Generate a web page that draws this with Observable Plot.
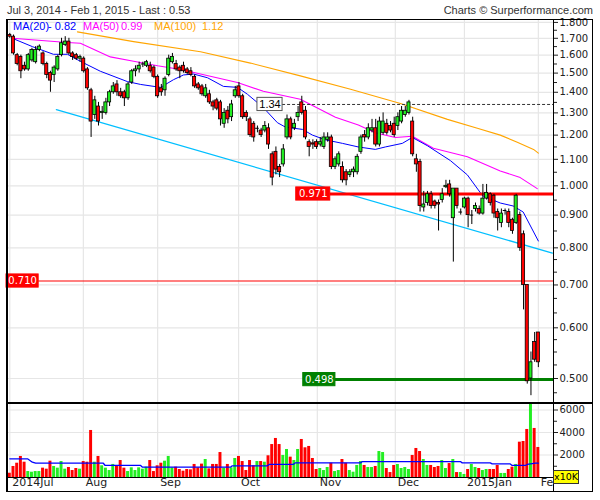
<!DOCTYPE html>
<html><head><meta charset="utf-8">
<script src="https://cdn.jsdelivr.net/npm/d3@7"></script>
<script src="https://cdn.jsdelivr.net/npm/@observablehq/plot@0.6"></script>
<style>
body{margin:0;background:#fff;}
#wrap{position:relative;width:600px;height:500px;overflow:hidden;background:#fff;font-family:"Liberation Sans",Arial,sans-serif;}
#wrap svg{position:absolute;left:0;}
</style></head><body><div id="wrap"></div>
<script>
// ---------- data ----------
const open = [1.72,1.71,1.60,1.59,1.54,1.52,1.57,1.56,1.63,1.61,1.55,1.50,1.49,1.52,1.60,1.66,1.68,1.61,1.60,1.58,1.58,1.52,1.41,1.29,1.33,1.30,1.30,1.35,1.40,1.44,1.40,1.40,1.37,1.45,1.51,1.52,
 1.55,1.54,1.54,1.53,1.48,1.42,1.41,1.49,1.56,1.55,1.53,1.54,1.52,1.51,1.48,1.44,1.43,1.38,1.39,1.35,1.36,1.35,1.25,1.31,1.28,1.38,1.43,1.38,1.30,1.27,1.25,1.23,1.22,1.22,1.23,1.12,1.13,1.07,
 1.08,1.19,1.27,1.23,1.28,1.35,1.31,1.17,1.165,1.17,1.16,1.15,1.18,1.19,1.07,1.08,1.07,1.05,1.04,1.05,1.05,1.13,1.20,1.19,1.22,1.23,1.16,1.21,1.25,1.24,1.25,1.24,1.26,1.29,1.30,1.26,1.10,1.09,
 0.925,0.94,0.97,0.945,0.94,0.95,0.995,1.005,0.89,0.99,0.91,0.925,0.955,0.90,0.92,0.92,0.905,0.955,0.97,0.965,0.91,0.875,0.915,0.91,0.885,0.875,0.90,0.84,0.70,0.50,0.57,0.59];
const high = [1.73,1.72,1.61,1.60,1.56,1.61,1.64,1.65,1.66,1.62,1.56,1.51,1.54,1.60,1.70,1.71,1.70,1.62,1.61,1.60,1.59,1.53,1.42,1.38,1.35,1.33,1.37,1.41,1.45,1.46,1.42,1.41,1.45,1.52,1.54,1.56,
 1.56,1.57,1.56,1.54,1.49,1.44,1.48,1.60,1.61,1.57,1.54,1.56,1.53,1.53,1.49,1.45,1.44,1.44,1.41,1.36,1.37,1.36,1.32,1.33,1.36,1.43,1.45,1.39,1.31,1.28,1.26,1.24,1.23,1.26,1.25,1.13,1.15,1.08,
 1.16,1.29,1.28,1.27,1.33,1.38,1.33,1.18,1.18,1.18,1.19,1.21,1.21,1.20,1.11,1.13,1.09,1.06,1.06,1.07,1.12,1.20,1.22,1.25,1.27,1.27,1.28,1.30,1.27,1.26,1.28,1.30,1.33,1.33,1.36,1.28,1.12,1.10,
 0.98,0.98,0.98,0.95,0.95,0.99,1.02,1.02,0.99,0.99,0.92,0.96,0.96,0.915,0.94,0.93,1.005,1.005,0.975,0.97,0.92,0.92,0.92,0.92,0.89,0.97,0.91,0.85,0.70,0.55,0.59,0.59];
const low = [1.70,1.60,1.54,1.47,1.51,1.51,1.56,1.55,1.62,1.54,1.47,1.40,1.45,1.51,1.59,1.65,1.60,1.57,1.57,1.56,1.50,1.41,1.19,1.27,1.24,1.27,1.29,1.33,1.39,1.38,1.37,1.33,1.36,1.44,1.48,1.50,
 1.53,1.53,1.50,1.47,1.37,1.38,1.38,1.48,1.55,1.51,1.47,1.50,1.49,1.48,1.42,1.41,1.38,1.37,1.34,1.31,1.31,1.24,1.23,1.25,1.26,1.37,1.37,1.27,1.26,1.19,1.17,1.21,1.19,1.21,1.14,1.00,1.04,1.03,
 1.07,1.18,1.18,1.22,1.26,1.29,1.18,1.11,1.14,1.14,1.15,1.14,1.17,1.06,1.06,1.07,1.01,1.00,1.03,1.03,1.04,1.12,1.17,1.18,1.21,1.15,1.15,1.20,1.20,1.21,1.19,1.22,1.25,1.28,1.29,1.11,1.05,0.91,
 0.91,0.93,0.92,0.92,0.85,0.94,0.99,0.96,0.76,0.92,0.90,0.92,0.86,0.87,0.91,0.90,0.90,0.95,0.93,0.89,0.85,0.86,0.90,0.86,0.84,0.87,0.79,0.64,0.49,0.47,0.53,0.52];
const close = [1.71,1.61,1.55,1.51,1.52,1.60,1.63,1.63,1.65,1.55,1.49,1.46,1.53,1.59,1.67,1.68,1.61,1.59,1.58,1.59,1.51,1.42,1.26,1.36,1.26,1.305,1.35,1.40,1.43,1.40,1.38,1.37,1.44,1.51,1.52,1.54,
 1.55,1.56,1.51,1.48,1.38,1.40,1.47,1.58,1.59,1.52,1.51,1.51,1.50,1.49,1.43,1.42,1.39,1.42,1.35,1.33,1.32,1.27,1.30,1.27,1.34,1.41,1.38,1.28,1.28,1.20,1.19,1.23,1.20,1.24,1.16,1.03,1.06,1.05,
 1.14,1.27,1.19,1.25,1.30,1.30,1.19,1.15,1.16,1.15,1.17,1.19,1.19,1.07,1.10,1.12,1.02,1.02,1.05,1.06,1.11,1.19,1.19,1.23,1.23,1.16,1.26,1.26,1.21,1.22,1.20,1.28,1.31,1.31,1.35,1.12,1.08,0.93,
 0.935,0.97,0.93,0.93,0.935,0.97,1.00,0.97,0.99,0.93,0.91,0.955,0.90,0.90,0.93,0.905,0.955,0.975,0.94,0.905,0.89,0.905,0.915,0.875,0.85,0.965,0.80,0.70,0.495,0.53,0.535,0.53];
// volume in units of 10K shares
const volume = [380,980,1270,1870,1360,530,470,530,530,830,740,1450,980,830,1420,740,890,620,800,740,
 1420,1360,4180,1360,1870,1040,830,620,1160,1040,1510,830,530,860,620,860,740,920,1510,530,
 1040,1270,1450,1870,860,920,710,560,710,680,1160,860,1190,1600,770,1160,1160,2220,830,1160,
 860,1690,1870,1420,620,1510,1040,1420,1420,1360,1930,2930,3470,2930,1960,2490,1810,1510,2490,
 3380,2640,2760,1690,710,800,620,890,1270,530,620,1600,1270,620,470,1070,1420,1070,890,890,
 980,2310,2220,800,440,1070,1160,800,890,710,1960,2580,2310,1600,1070,1070,890,980,1510,800,
 1240,1600,440,440,270,710,1160,890,800,620,710,710,710,1070,360,360,710,920,1160,3140,
 3200,4270,6550,4360,2670];
// moving averages: [trading-day index, value]
const ma20 = [[0.7,1.70],[6.1,1.65],[11.8,1.605],[15.6,1.605],[19.1,1.565],[24.5,1.51],[31.8,1.455],[35.4,1.44],[40.8,1.425],[44.3,1.465],[47,1.49],[49.7,1.495],[53.5,1.475],[57.8,1.43],[61.6,1.425],[64.3,1.39],[68.6,1.325],[72.4,1.255],[74.6,1.235],[79.2,1.225],[81.9,1.20],[85.4,1.18],[90,1.165],[94.3,1.15],[98.9,1.14],[101.6,1.15],[106.2,1.165],[108.9,1.19],[113,1.155],[119.2,1.095],[123.8,1.04],[127.9,0.965],[132.7,0.94],[136.2,0.93],[138.9,0.91],[143,0.82]];
const ma50 = [[0.7,1.70],[15.6,1.675],[19.1,1.67],[27.2,1.59],[33.5,1.565],[40,1.54],[46.2,1.52],[51.6,1.495],[61.6,1.45],[68.6,1.405],[78.6,1.365],[88.1,1.28],[94.3,1.245],[98.9,1.21],[104.3,1.19],[108.9,1.195],[114.6,1.145],[123.8,1.11],[132.7,1.055],[138.1,1.03],[142.7,0.99]];
const ma100 = [[18.3,1.74],[33.5,1.68],[51.6,1.62],[65.1,1.555],[78.6,1.485],[92.2,1.415],[105.7,1.345],[118.4,1.27],[126.5,1.23],[132.7,1.20],[137.3,1.17],[141.7,1.14],[143,1.125]];
const volMA = [[0,1660],[4.8,1660],[6.1,1360],[7,1270],[25.3,1270],[25.8,1070],[35.4,1070],[35.9,920],[59.7,920],[60.2,1040],[69.7,1040],[70.2,1160],[76.7,1160],[77.2,1300],[94.9,1300],[95.4,1420],[121.9,1420],[122.4,1300],[130,1300],[130.5,1210],[135.4,1210],[135.9,1070],[139.5,1070],[140,1160],[142.2,1270],[143,1270]];
const trend = [[12.6,1.315],[146.8,0.785]];
const maNames = ["MA(20)","MA(50)","MA(100)"];
const maLast = ["0.82","0.99","1.12"];
const levelPrice = [1.34, 0.971, 0.710, 0.498];
const levelText = ["1.34","0.971","0.710","0.498"];
const priceTicks = [0.5,0.6,0.7,0.8,0.9,1.0,1.1,1.2,1.3,1.4,1.5,1.6,1.7,1.8];
const priceMinor = [0.475,0.525,0.55,0.575,0.633,0.667,0.733,0.767,0.85,0.95,1.05,1.15,1.25,1.35,1.45,1.55,1.65,1.75];
const volTicks = [2000,4000,6000];
const volMinor = [1000,3000,5000];
const monthTicks = [0,19.9,40,61.9,83.2,104.3,123,143];
const monthLabels = ["2014Jul","Aug","Sep","Oct","Nov","Dec","2015Jan","Fe"];

// ---------- styles ----------
const UP = "#22ee22", DOWN = "#ff0000", GRID = "#e6e6e6";
const maColors = ["#0000ff","#ff00ff","#ffa500"];
const xDomain = [-0.89, 147.1];
const levelLook = [
  {start: 67, w: 6.8, stroke: "#333", sw: 1, dash: "3,2", bg: "#fff", border: "#555", fg: "#000", font: "Liberation Sans", fs: 11},
  {start: 77.5, w: 9.2, stroke: "#ff0000", sw: 3, dash: "none", bg: "#ff0000", border: "#ff0000", fg: "#fff", font: "DejaVu Sans", fs: 10},
  {start: -0.89, w: 8.7, stroke: "#ff0000", sw: 1.2, dash: "none", bg: "#ff0000", border: "#ff0000", fg: "#fff", font: "DejaVu Sans", fs: 10},
  {start: 79.4, w: 8.7, stroke: "#008000", sw: 3, dash: "none", bg: "#008000", border: "#008000", fg: "#fff", font: "DejaVu Sans", fs: 10}
];

const candles = close.map((c, i) => ({i, o: open[i], h: high[i], l: low[i], c, v: volume[i]}));
const bodies = candles.filter(d => d.c !== d.o);
const dojis = candles.filter(d => d.c === d.o);
const upDown = d => d.c >= d.o ? UP : DOWN;

const levelLines = [], levelBoxes = [];
levelPrice.forEach((p, k) => {
  const L = levelLook[k];
  levelLines.push(Plot.ruleY([p], {x1: L.start + L.w, x2: xDomain[1], stroke: L.stroke, strokeWidth: L.sw, strokeDasharray: L.dash}));
  levelBoxes.push(Plot.rect([p], {x1: L.start, x2: L.start + L.w, y1: d => d / 1.024, y2: d => d * 1.024, fill: L.bg, stroke: L.border, strokeWidth: 1}));
  levelBoxes.push(Plot.text([levelText[k]], {x: L.start + L.w / 2, y: p, text: d => d, fill: L.fg, fontSize: L.fs, fontFamily: L.font}));
});

const axisStyle = {background: "transparent", fontFamily: "DejaVu Sans, sans-serif", fontSize: "10px", color: "#222", overflow: "visible"};

const pricePlot = Plot.plot({
  width: 600, height: 403, marginLeft: 6, marginRight: 47, marginTop: 19, marginBottom: 0,
  style: axisStyle,
  x: {domain: xDomain, axis: null},
  y: {type: "log", domain: [0.457, 1.819]},
  color: {type: "identity"},
  marks: [
    Plot.ruleY(priceTicks, {stroke: GRID, strokeWidth: 1.2}),
    Plot.ruleX(monthTicks, {stroke: GRID, strokeWidth: 1.2}),
    Plot.line(trend, {x: d => d[0], y: d => d[1], stroke: "#00bfff", strokeWidth: 1.3}),
    Plot.line(ma100, {x: d => d[0], y: d => d[1], stroke: maColors[2], strokeWidth: 1.1}),
    Plot.line(ma50, {x: d => d[0], y: d => d[1], stroke: maColors[1], strokeWidth: 1.1}),
    Plot.line(ma20, {x: d => d[0], y: d => d[1], stroke: maColors[0], strokeWidth: 1}),
    ...levelLines,
    Plot.ruleX(candles, {x: "i", y1: "l", y2: "h", stroke: "#000", strokeWidth: 1}),
    Plot.rect(bodies, {x1: d => d.i - 0.42, x2: d => d.i + 0.42, y1: d => Math.min(d.o, d.c), y2: d => Math.max(d.o, d.c), fill: upDown, stroke: "#000", strokeWidth: 0.8}),
    Plot.ruleY(dojis, {y: "c", x1: d => d.i - 0.5, x2: d => d.i + 0.5, stroke: "#000", strokeWidth: 1}),
    ...levelBoxes,
    Plot.axisY(priceTicks, {anchor: "right", tickSize: 4, tickPadding: 2, tickFormat: d3.format(".3f"), label: null, fill: "#222"}),
    Plot.axisY(priceMinor, {anchor: "right", tickSize: 3, tickFormat: () => "", label: null})
  ]
});
pricePlot.style.top = "0px";

const volPlot = Plot.plot({
  width: 600, height: 89, marginLeft: 6, marginRight: 47, marginTop: 0, marginBottom: 15,
  style: axisStyle,
  x: {domain: xDomain, axis: null},
  y: {domain: [0, 6578]},
  color: {type: "identity"},
  marks: [
    Plot.ruleY(volTicks, {stroke: GRID, strokeWidth: 1.2}),
    Plot.ruleX(monthTicks, {stroke: GRID, strokeWidth: 1.2}),
    Plot.rect(candles, {x1: d => d.i - 0.4, x2: d => d.i + 0.4, y1: 0, y2: "v", fill: upDown}),
    Plot.line(volMA, {x: d => d[0], y: d => d[1], stroke: "#0000ff", strokeWidth: 1.3}),
    Plot.axisY(volTicks, {anchor: "right", tickSize: 4, tickPadding: 2, tickFormat: d => String(d), label: null, fill: "#222"}),
    Plot.axisY(volMinor, {anchor: "right", tickSize: 3, tickFormat: () => "", label: null}),
    Plot.text(monthLabels, {x: (d, i) => monthTicks[i], text: d => d, frameAnchor: "bottom", dy: 8.5, dx: 2.5, textAnchor: "start", fontSize: 11, fill: "#222"})
  ]
});
volPlot.style.top = "403px";

const wrap = document.getElementById("wrap");
wrap.appendChild(pricePlot);
wrap.appendChild(volPlot);
function addDiv(css, text) {
  const d = document.createElement("div");
  d.style.cssText = "position:absolute;" + css;
  if (text != null) d.textContent = text;
  wrap.appendChild(d);
  return d;
}
// frame lines
addDiv("left:6px;top:19px;width:587px;height:473px;box-sizing:border-box;border:1px solid #000;border-left-width:2px;");
addDiv("left:6px;top:402px;width:587px;height:1.5px;background:#000;");
addDiv("left:552.5px;top:19px;width:1.2px;height:473px;background:#000;");
addDiv("left:6px;top:477px;width:547px;height:1px;background:#000;");
// texts
addDiv("left:7px;top:4px;font-size:11px;line-height:13px;color:#333;white-space:nowrap;", "Jul 3, 2014 - Feb 1, 2015 - Last : " + close[close.length - 1].toFixed(2));
addDiv("right:7px;top:4px;font-size:11px;line-height:13px;color:#333;white-space:nowrap;", "Charts \u00a9 Surperformance.com");
const nameX = [13, 83, 154], valX = [48, 121, 202];
maNames.forEach((n, k) => {
  addDiv(`left:${nameX[k]}px;top:20px;font-size:11px;line-height:13px;color:${maColors[k]};white-space:nowrap;`, n);
  addDiv(`left:${valX[k]}px;top:20px;font-size:11px;line-height:13px;color:${maColors[k]};white-space:nowrap;`, (k === 0 ? "- " : "") + maLast[k]);
});
addDiv("left:553px;top:470px;width:24px;height:12px;background:#ffff00;border:1px solid #333;font-family:'DejaVu Sans';font-size:9.5px;line-height:12px;text-align:center;color:#000;", "x10K");
</script></body></html>
